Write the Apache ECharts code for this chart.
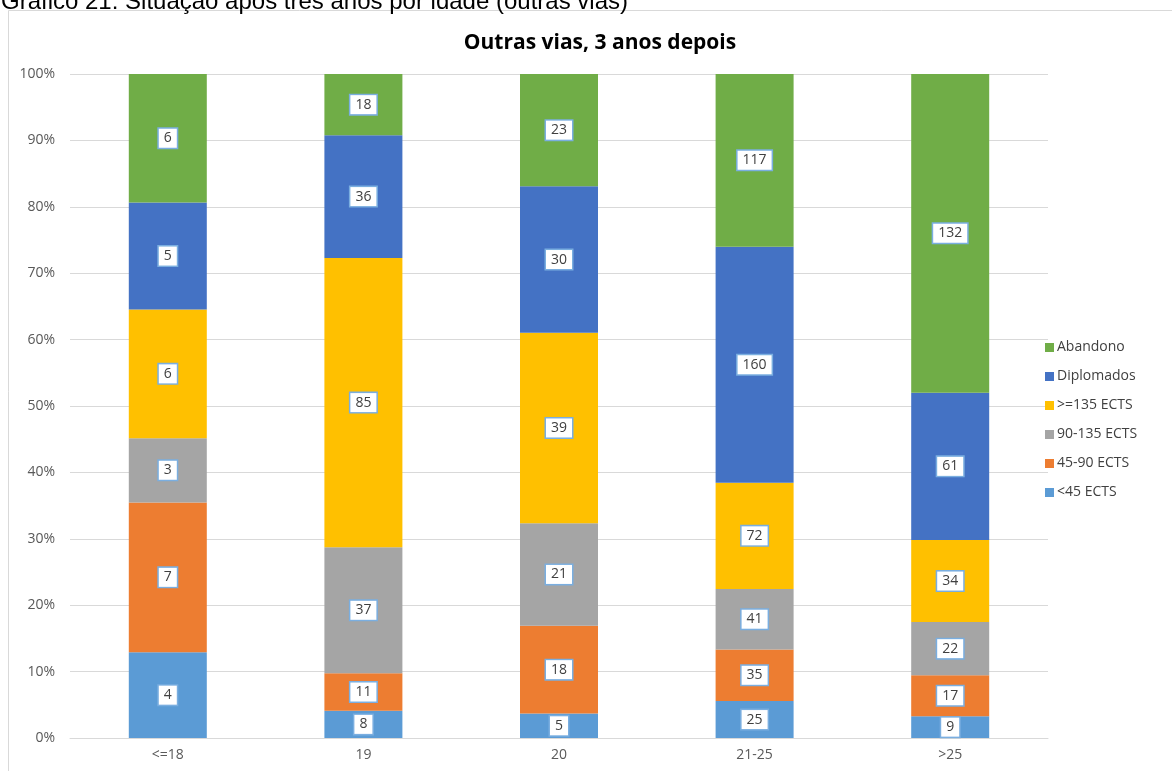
<!DOCTYPE html>
<html>
<head>
<meta charset="utf-8">
<script src="https://cdn.jsdelivr.net/npm/echarts@6/dist/echarts.min.js"></script>
<style>
  html, body { margin: 0; padding: 0; background: #fff; }
  #main { width: 1172px; height: 771px; }
</style>
</head>
<body>
<div id="main"></div>
<script>
// categorias e contagens por situação
var categories = ['<=18', '19', '20', '21-25', '>25'];
var seriesNames = ['<45 ECTS', '45-90 ECTS', '90-135 ECTS', '>=135 ECTS', 'Diplomados', 'Abandono'];
var menos45 = [4, 8, 5, 25, 9];
var ects45_90 = [7, 11, 18, 35, 17];
var ects90_135 = [3, 37, 21, 41, 22];
var ects135 = [6, 85, 39, 72, 34];
var diplomados = [5, 36, 30, 160, 61];
var abandono = [6, 18, 23, 117, 132];
var yTicks = ['0%', '10%', '20%', '30%', '40%', '50%', '60%', '70%', '80%', '90%', '100%'];

var colors = ['#5b9bd5', '#ed7d31', '#a5a5a5', '#ffc000', '#4472c4', '#70ad47'];
var counts = [menos45, ects45_90, ects90_135, ects135, diplomados, abandono];

// totais por idade, para passar a percentagem
var totals = categories.map(function (c, i) {
  var s = 0;
  counts.forEach(function (arr) { s += arr[i]; });
  return s;
});

var chart = echarts.init(document.getElementById('main'));

var series = counts.map(function (arr, k) {
  return {
    name: seriesNames[k],
    type: 'bar',
    stack: 'total',
    barWidth: 78,
    itemStyle: { color: colors[k] },
    label: {
      show: true,
      position: 'inside',
      formatter: function (p) { return arr[p.dataIndex]; },
      color: '#404040',
      fontSize: 14,
      fontFamily: 'Open Sans',
      backgroundColor: '#fff',
      borderColor: '#7aaee0',
      borderWidth: 1.5,
      padding: [3, 5, 2, 5]
    },
    data: arr.map(function (v, i) { return v / totals[i] * 100; })
  };
});

var option = {
  animation: false,
  title: [
    {
      text: 'Outras vias, 3 anos depois',
      left: 595,
      textAlign: 'center',
      top: 28,
      textStyle: { fontSize: 21, fontWeight: 'bold', color: '#000', fontFamily: 'Open Sans' }
    },
    {
      text: 'Gráfico 21: Situação após três anos por idade (outras vias)',
      left: -4,
      top: -15,
      textStyle: { fontSize: 24, fontWeight: 'normal', color: '#000', fontFamily: 'Liberation Sans' }
    }
  ],
  graphic: [{
    type: 'rect',
    shape: { x: 8.5, y: 10.5, width: 1170, height: 770 },
    style: { fill: 'none', stroke: '#d9d9d9', lineWidth: 1 },
    z: -1
  }],
  legend: {
    orient: 'vertical',
    left: 1040,
    top: 333,
    itemWidth: 9,
    itemHeight: 9,
    itemGap: 10,
    icon: 'rect',
    data: seriesNames.slice().reverse(),
    textStyle: { fontSize: 14, lineHeight: 19, color: '#404040', fontFamily: 'Open Sans', padding: [0, 0, 0, -2] }
  },
  grid: { left: 70, right: 124, top: 74, bottom: 33, containLabel: false },
  xAxis: {
    type: 'category',
    data: categories,
    axisTick: { show: false },
    axisLine: { lineStyle: { color: '#d9d9d9' } },
    axisLabel: { color: '#595959', fontSize: 14, fontFamily: 'Open Sans', margin: 10 }
  },
  yAxis: {
    type: 'value',
    min: 0,
    max: 100,
    interval: 10,
    axisLabel: {
      color: '#595959',
      fontSize: 14,
      fontFamily: 'Open Sans',
      margin: 15,
      formatter: function (v) { return yTicks[Math.round(v / 10)]; }
    },
    splitLine: { lineStyle: { color: '#d9d9d9' } }
  },
  series: series
};

chart.setOption(option);
</script>
</body>
</html>
